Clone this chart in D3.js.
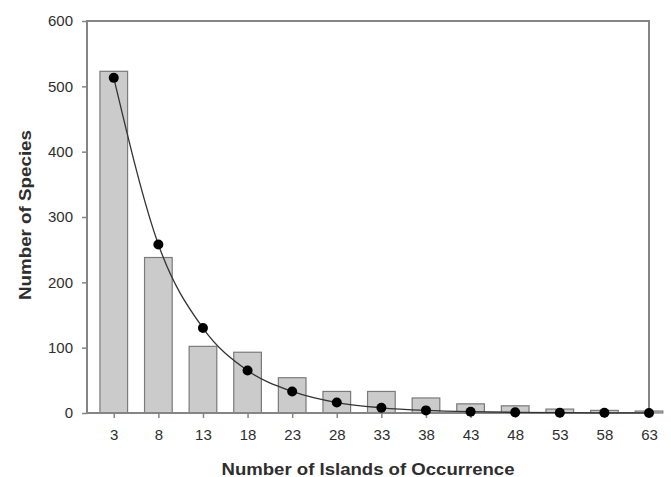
<!DOCTYPE html>
<html><head><meta charset="utf-8">
<script src="https://cdn.jsdelivr.net/npm/d3@7"></script>
<style>body{margin:0;background:#fff}</style>
</head><body><svg id="c" width="671" height="477"></svg>
<script>
const categories = [3, 8, 13, 18, 23, 28, 33, 38, 43, 48, 53, 58, 63];
const observed = [523, 238, 102, 93, 54, 33, 33, 23, 14, 11, 6, 4, 3];
const fitted = [513, 258, 130, 65, 33, 16, 8, 4, 2, 1, 0.5, 0.25, 0.13];
const yTicks = [0, 100, 200, 300, 400, 500, 600];
const xLabel = "Number of Islands of Occurrence";
const yLabel = "Number of Species";

const svg = d3.select("#c");
const L = 87, R = 649, T = 21, B = 413;
const x = d3.scaleLinear().domain([0, 63]).range([L, R]);
const y = d3.scaleLinear().domain([0, 600]).range([B, T]);
const axisCol = "#858585", textCol = "#2e2e2e";
const font = "Liberation Sans, Arial, sans-serif";

// bars
svg.append("g").selectAll("rect").data(categories).join("rect")
  .attr("x", d => x(d - 1.55))
  .attr("width", x(3.1) - x(0))
  .attr("y", (d, i) => y(observed[i]))
  .attr("height", (d, i) => y(0) - y(observed[i]))
  .attr("fill", "#cbcbcb").attr("stroke", "#7a7a7a").attr("stroke-width", 1.2);

// frame
svg.append("rect").attr("x", L).attr("y", T).attr("width", R - L).attr("height", B - T)
  .attr("fill", "none").attr("stroke", axisCol).attr("stroke-width", 2);

// axes
const yAxis = svg.append("g").attr("transform", `translate(${L},0)`)
  .call(d3.axisLeft(y).tickValues(yTicks).tickSize(5).tickPadding(9));
const xAxis = svg.append("g").attr("transform", `translate(0,${B})`)
  .call(d3.axisBottom(x).tickValues(categories).tickSize(5).tickPadding(11));
[yAxis, xAxis].forEach(g => {
  g.select(".domain").remove();
  g.selectAll("line").attr("stroke", axisCol).attr("stroke-width", 1.5);
  g.selectAll("text").attr("fill", textCol).attr("font-family", font)
    .attr("font-size", 15).attr("font-weight", 500);
});

// curve
const pts = categories.map((c, i) => [x(c), y(fitted[i])]);
svg.append("path").attr("d", d3.line().curve(d3.curveMonotoneX)(pts))
  .attr("fill", "none").attr("stroke", "#333").attr("stroke-width", 1.3);
svg.append("g").selectAll("circle").data(pts).join("circle")
  .attr("cx", d => d[0]).attr("cy", d => d[1]).attr("r", 5).attr("fill", "#000");

// labels
svg.append("text").attr("x", 368).attr("y", 475).attr("text-anchor", "middle")
  .attr("font-family", font).attr("font-weight", "bold")
  .attr("textLength", 293).attr("lengthAdjust", "spacingAndGlyphs")
  .attr("font-size", 16).attr("fill", textCol).text(xLabel);
svg.append("text").attr("transform", "translate(31,215) rotate(-90)").attr("text-anchor", "middle")
  .attr("font-family", font).attr("font-weight", "bold")
  .attr("textLength", 170).attr("lengthAdjust", "spacingAndGlyphs")
  .attr("font-size", 16).attr("fill", textCol).text(yLabel);
</script></body></html>
